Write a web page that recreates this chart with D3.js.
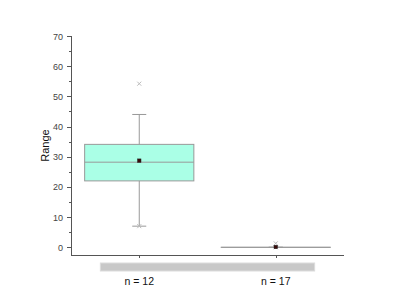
<!DOCTYPE html>
<html>
<head>
<meta charset="utf-8">
<script src="https://cdn.jsdelivr.net/npm/d3@7"></script>
<style>
  body { margin: 0; background: #fff; }
  text { font-family: "Liberation Sans", Arial, sans-serif; }
</style>
</head>
<body>
<div class="chart"></div>
<script>
const width = 400;
const height = 306;

// box statistics
const categories = ["n = 12", "n = 17"];
const q1 = [22.0, 0];
const median = [28.2, 0];
const q3 = [34.1, 0];
const whiskerLow = [7.0, 0];
const whiskerHigh = [44.0, 0];
const means = [28.7, 0.1];
const minVals = [7.0, 0];
const maxVals = [54.2, 1.3];
const yTicks = [0, 10, 20, 30, 40, 50, 60, 70];

const boxes = categories.map((c, i) => ({
  cat: c, q1: q1[i], med: median[i], q3: q3[i],
  lo: whiskerLow[i], hi: whiskerHigh[i], mean: means[i],
  min: minVals[i], max: maxVals[i]
}));

const svg = d3.select(".chart").append("svg").attr("width", width).attr("height", height);

const mLeft = 71, mRight = 344, mTop = 36, mBottom = 255;

const y = d3.scaleLinear().domain([0, 70]).range([247.3, 36]);
const x = d3.scalePoint().domain(categories).range([mLeft, mRight]).padding(0.5);
const boxW = x.step() * 0.8;

// axes
svg.append("line").attr("x1", mLeft + 0.5).attr("x2", mLeft + 0.5).attr("y1", mTop).attr("y2", mBottom)
  .attr("stroke", "#555");
svg.append("line").attr("x1", mLeft).attr("x2", mRight).attr("y1", mBottom + 0.5).attr("y2", mBottom + 0.5)
  .attr("stroke", "#555");

const yAxis = svg.append("g");
yAxis.selectAll(".major")
  .data(yTicks)
  .enter()
    .append("line")
    .attr("x1", mLeft - 4).attr("x2", mLeft)
    .attr("y1", d => Math.round(y(d)) + 0.5).attr("y2", d => Math.round(y(d)) + 0.5)
    .attr("stroke", "#555");
yAxis.selectAll(".minor")
  .data(yTicks.slice(0, -1).map(d => d + 5))
  .enter()
    .append("line")
    .attr("x1", mLeft - 2).attr("x2", mLeft)
    .attr("y1", d => Math.round(y(d)) + 0.5).attr("y2", d => Math.round(y(d)) + 0.5)
    .attr("stroke", "#555");
yAxis.selectAll("text")
  .data(yTicks)
  .enter()
    .append("text")
    .attr("x", mLeft - 8)
    .attr("y", d => y(d) + 3.5)
    .attr("text-anchor", "end")
    .attr("font-size", 9)
    .attr("fill", "#444")
    .text(d => d);

svg.append("text")
  .attr("transform", `translate(49,${(mTop + mBottom) / 2}) rotate(-90)`)
  .attr("text-anchor", "middle")
  .attr("font-size", 11)
  .attr("fill", "#111")
  .text("Range");

// x ticks
svg.selectAll(".xtick")
  .data(categories)
  .enter()
    .append("line")
    .attr("x1", d => Math.round(x(d)) + 0.5).attr("x2", d => Math.round(x(d)) + 0.5)
    .attr("y1", mBottom).attr("y2", mBottom + 3)
    .attr("stroke", "#555");

// gray band under the axis
const mid = (mLeft + mRight) / 2;
svg.append("rect")
  .attr("x", mid - x.step() * 0.785).attr("y", 263)
  .attr("width", x.step() * 1.57).attr("height", 8)
  .attr("fill", "#c8c8c8").attr("stroke", "#dcdcdc");

svg.selectAll(".xlabel")
  .data(categories)
  .enter()
    .append("text")
    .attr("x", d => x(d))
    .attr("y", 285)
    .attr("text-anchor", "middle")
    .attr("font-size", 10.5)
    .attr("fill", "#111")
    .text(d => d);

// boxes
const g = svg.selectAll(".box")
  .data(boxes)
  .enter()
    .append("g")
    .attr("class", "box");

g.append("line")
  .attr("x1", d => x(d.cat)).attr("x2", d => x(d.cat))
  .attr("y1", d => y(d.hi)).attr("y2", d => y(d.lo))
  .attr("stroke", "#999");
g.append("line")
  .attr("x1", d => x(d.cat) - 7).attr("x2", d => x(d.cat) + 7)
  .attr("y1", d => y(d.hi)).attr("y2", d => y(d.hi))
  .attr("stroke", "#999");
g.append("line")
  .attr("x1", d => x(d.cat) - 7).attr("x2", d => x(d.cat) + 7)
  .attr("y1", d => y(d.lo)).attr("y2", d => y(d.lo))
  .attr("stroke", "#999");

g.append("rect")
  .attr("x", d => x(d.cat) - boxW / 2)
  .attr("y", d => y(d.q3))
  .attr("width", boxW)
  .attr("height", d => Math.max(0.01, y(d.q1) - y(d.q3)))
  .attr("fill", "#aaffe6")
  .attr("stroke", "#999");
g.append("line")
  .attr("x1", d => x(d.cat) - boxW / 2).attr("x2", d => x(d.cat) + boxW / 2)
  .attr("y1", d => y(d.med)).attr("y2", d => y(d.med))
  .attr("stroke", "#999");

// min / max markers
const cross = (sel, key) => sel.append("path")
  .attr("d", d => {
    const cx = x(d.cat), cy = y(d[key]);
    return `M${cx - 2},${cy - 2}L${cx + 2},${cy + 2}M${cx - 2},${cy + 2}L${cx + 2},${cy - 2}`;
  })
  .attr("stroke", "#bbb");
cross(g, "max");
cross(g, "min");

// mean
g.append("rect")
  .attr("x", d => x(d.cat) - 1.75)
  .attr("y", d => y(d.mean) - 1.75)
  .attr("width", 3.5).attr("height", 3.5)
  .attr("fill", "#3a0a0a")
  .attr("stroke", "#222").attr("stroke-width", 0.5);
</script>
</body>
</html>
